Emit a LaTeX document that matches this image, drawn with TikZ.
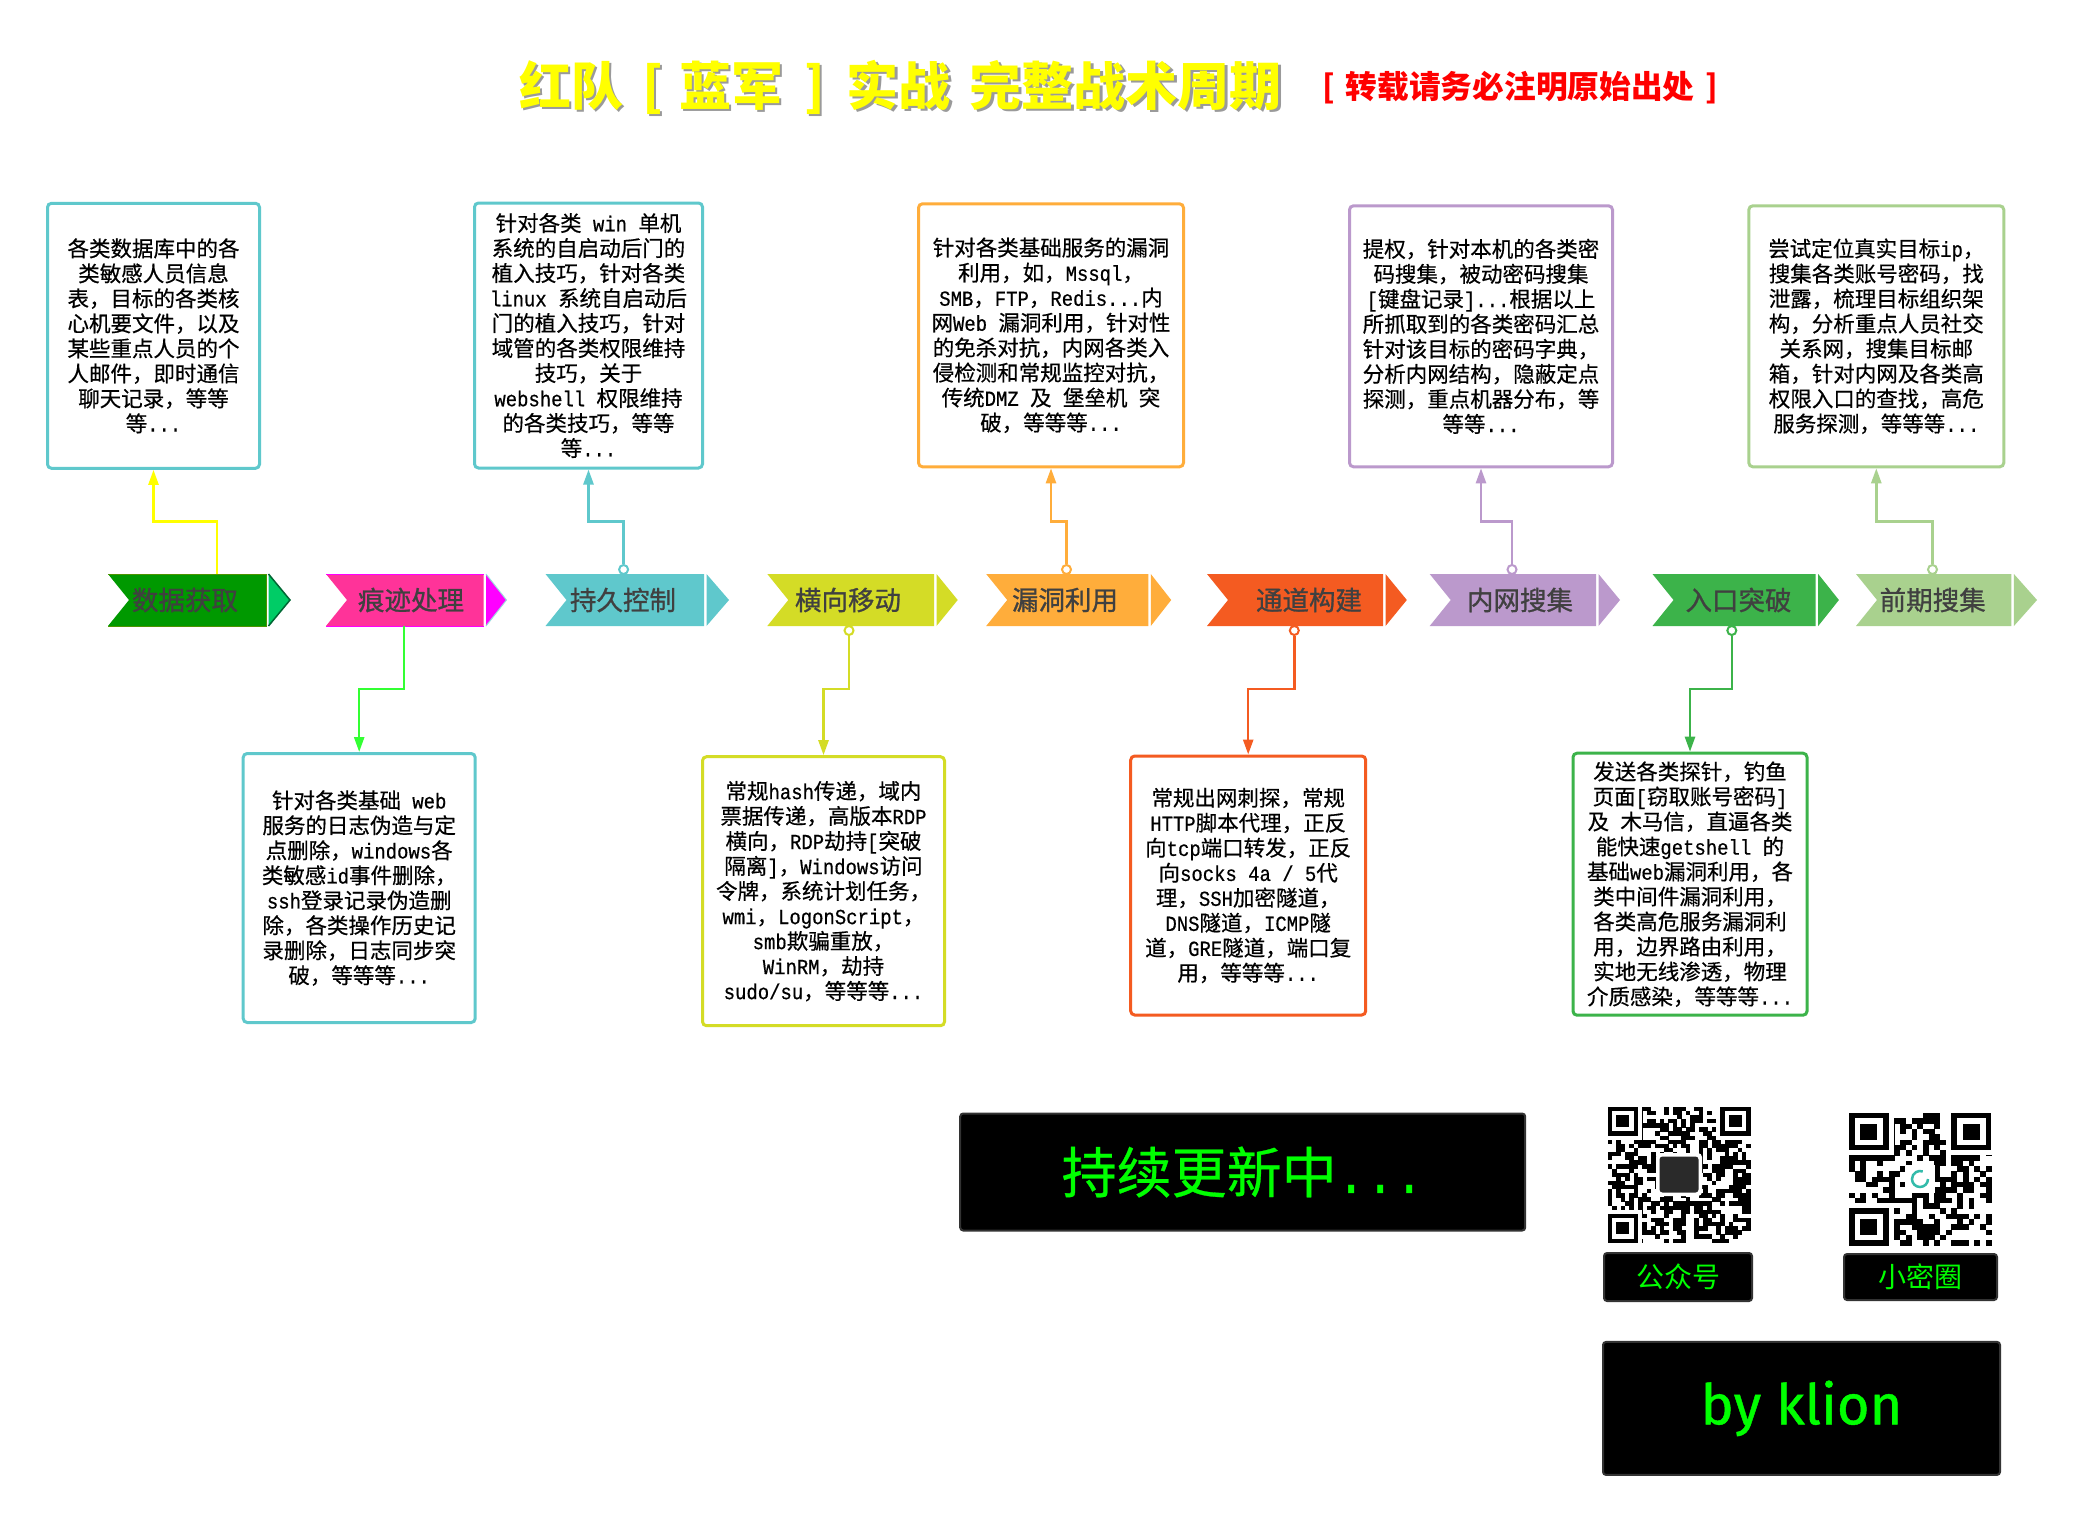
\documentclass[tikz,border=0pt]{standalone}
\usepackage{fontspec}
\setmainfont{Noto Sans CJK SC}
\newfontfamily\cjkb[FakeBold=1.0]{Noto Sans CJK SC}
\newfontfamily\cjkm[FakeBold=0.5]{Noto Sans CJK SC}
\newfontfamily\monof[FakeStretch=0.88,FakeBold=0.5]{Liberation Mono}
\newfontfamily\byfont[FakeBold=0.8]{Fira Sans}
\usetikzlibrary{arrows.meta}
\definecolor{cTeal}{HTML}{5FC8CC}
\definecolor{cDkGreen}{HTML}{009900}
\definecolor{cDkEdge}{HTML}{4D9400}
\definecolor{cTipOne}{HTML}{00CC66}
\definecolor{cTipEdge}{HTML}{006633}
\definecolor{cPink}{HTML}{FF3399}
\definecolor{cMag}{HTML}{FF00FF}
\definecolor{cYG}{HTML}{D4DC26}
\definecolor{cOrange}{HTML}{FFAD3B}
\definecolor{cRedOr}{HTML}{F45B21}
\definecolor{cPurple}{HTML}{BB99CC}
\definecolor{cGreen}{HTML}{3CB34A}
\definecolor{cLtGreen}{HTML}{A9D18E}
\definecolor{cYellow}{HTML}{FFFF00}
\definecolor{cBright}{HTML}{33FF33}
\definecolor{cText}{HTML}{404040}
\definecolor{cNeon}{HTML}{00FF00}
\definecolor{cBorder}{HTML}{333333}
\definecolor{cShadow}{HTML}{9A9A9A}
\definecolor{cLogo}{HTML}{2A2A2A}
\definecolor{cQRteal}{HTML}{33BBAA}
\definecolor{cRed}{HTML}{FF0000}
\newcommand\lat[1]{{\monof #1}}
% chevron: name, left, right, tip, fill, tipfill, text x, label
\newcommand\chevron[8]{%
  \fill[#5] (#2,574) -- (#3,574) -- (#3,626) -- (#2,626) -- ({#2+21},600) -- cycle;
  \fill[#6] ({#3+2.5},574) -- (#4,600) -- ({#3+2.5},626) -- cycle;
  \node[chevtext] (#1) at (#7,600) {#8};
}
\newcommand\qrblock[6]{%
  \pgfmathsetseed{#6}%
  \pgfmathtruncatemacro\qrlast{#3-1}%
  \foreach \qi in {0,...,\qrlast}{%
    \foreach \qj in {0,...,\qrlast}{%
      \pgfmathtruncatemacro\qrr{rnd*2}%
      \ifnum\qrr=1 \fill[black] ({#1+\qi*#4},{#2+\qj*#5}) rectangle ++({#4+0.2},{#5+0.2});\fi
    }%
  }%
}
\newcommand\qrfinder[4]{%
  \fill[white] ({#1-#3},{#2-#4}) rectangle ({#1+8*#3},{#2+8*#4});
  \fill[black] (#1,#2) rectangle ({#1+7*#3},{#2+7*#4});
  \fill[white] ({#1+#3},{#2+#4}) rectangle ({#1+6*#3},{#2+6*#4});
  \fill[black] ({#1+2*#3},{#2+2*#4}) rectangle ({#1+5*#3},{#2+5*#4});
}
\tikzset{
  infobox/.style={draw=#1, line width=3pt, rounded corners=4pt, fill=white, align=center, inner sep=0pt, font=\cjkm\fontsize{21.5}{25}\selectfont, text=black},
  chevtext/.style={text=cText, font=\cjkb\fontsize{26.5}{30}\selectfont, inner sep=0pt},
  conn/.style={draw=#1, line width=2.5pt},
  arr/.style={-{Triangle[length=15pt,width=10pt]}},
  knob/.style={circle, draw=#1, line width=2pt, fill=white, minimum size=9pt, inner sep=0pt},
  blackbox/.style={fill=black, draw=cBorder, line width=2pt, rounded corners=3pt, inner sep=0pt, text=cNeon},
}
\begin{document}
\begin{tikzpicture}[x=1pt,y=-1pt]
\useasboundingbox (0,0) rectangle (2099,1537);
\fill[white] (0,0) rectangle (2099,1537);

% ---------- title ----------
\node[anchor=west, inner sep=0pt, text=cShadow, font=\fontsize{52}{60}\selectfont\bfseries] (titleshadow) at (521.5,89.5) {红队\hspace{19pt}[\hspace{16.5pt}蓝军\hspace{21pt}]\hspace{21.5pt}实战\hspace{19pt}完整战术周期};
\node[anchor=west, inner sep=0pt, text=cYellow, font=\fontsize{52}{60}\selectfont\bfseries] (title) at (519,87) {红队\hspace{19pt}[\hspace{16.5pt}蓝军\hspace{21pt}]\hspace{21.5pt}实战\hspace{19pt}完整战术周期};
\node[anchor=west, inner sep=0pt, text=cRed, font=\fontsize{31.7}{36}\selectfont\bfseries] (subtitle) at (1322,88) {[\hspace{11pt}转载请务必注明原始出处\hspace{11pt}]};

% ---------- chevrons ----------
\chevron{ch1}{108}{266}{290}{cDkGreen}{cTipOne}{185}{数据获取}
\draw[cDkEdge, line width=1pt] (108,574) -- (266,574) -- (266,626) -- (108,626);
\draw[cTipEdge, line width=1.5pt] (268.5,574) -- (290,600) -- (268.5,626);
\chevron{ch2}{326}{483.5}{506.5}{cPink}{cMag}{411}{痕迹处理}
\draw[cMag, line width=1pt] (326,574) -- (483.5,574) (326,626) -- (483.5,626);
\draw[cTeal!60, line width=1pt] (486,574) -- (506.5,600) -- (486,626);
\chevron{ch3}{545.5}{704}{729}{cTeal}{cTeal}{623}{持久控制}
\chevron{ch4}{767.3}{934}{957.7}{cYG}{cYG}{848}{横向移动}
\chevron{ch5}{986.2}{1148.3}{1171.2}{cOrange}{cOrange}{1065}{漏洞利用}
\chevron{ch6}{1207}{1383}{1406.8}{cRedOr}{cRedOr}{1309}{通道构建}
\chevron{ch7}{1429.7}{1596}{1620}{cPurple}{cPurple}{1520}{内网搜集}
\chevron{ch8}{1652.5}{1815.7}{1838.9}{cGreen}{cGreen}{1738.5}{入口突破}
\chevron{ch9}{1856}{2011.4}{2037}{cLtGreen}{cLtGreen}{1932.7}{前期搜集}

% ---------- top boxes ----------
\node[infobox=cTeal, minimum width=212pt, minimum height=265pt] (t1) at (153.5,335.8) {各类数据库中的各\\类敏感人员信息\\表，目标的各类核\\心机要文件，以及\\某些重点人员的个\\人邮件，即时通信\\聊天记录，等等\\等\lat{...}};
\node[infobox=cTeal, minimum width=228pt, minimum height=265pt] (t2) at (588.5,335.5) {针对各类\lat{~win~}单机\\系统的自启动后门的\\植入技巧，针对各类\\\lat{linux~}系统自启动后\\门的植入技巧，针对\\域管的各类权限维持\\技巧，关于\\\lat{webshell~}权限维持\\的各类技巧，等等\\等\lat{...}};
\node[infobox=cOrange, minimum width=265pt, minimum height=263pt] (t3) at (1051,335.3) {针对各类基础服务的漏洞\\利用，如，\lat{Mssql}，\\\lat{SMB}，\lat{FTP}，\lat{Redis...}内\\网\lat{Web~}漏洞利用，针对性\\的免杀对抗，内网各类入\\侵检测和常规监控对抗，\\传统\lat{DMZ~}及\lat{~}堡垒机\lat{~}突\\破，等等等\lat{...}};
\node[infobox=cPurple, minimum width=263pt, minimum height=261pt] (t4) at (1481,336.3) {提权，针对本机的各类密\\码搜集，被动密码搜集\\\lat{[}键盘记录\lat{]...}根据以上\\所抓取到的各类密码汇总\\针对该目标的密码字典，\\分析内网结构，隐蔽定点\\探测，重点机器分布，等\\等等\lat{...}};
\node[infobox=cLtGreen, minimum width=255pt, minimum height=261pt] (t5) at (1876.3,336.3) {尝试定位真实目标\lat{ip}，\\搜集各类账号密码，找\\泄露，梳理目标组织架\\构，分析重点人员社交\\关系网，搜集目标邮\\箱，针对内网及各类高\\权限入口的查找，高危\\服务探测，等等等\lat{...}};

% ---------- bottom boxes ----------
\node[infobox=cTeal, minimum width=232pt, minimum height=269pt] (b1) at (359.2,888) {针对各类基础\lat{~web}\\服务的日志伪造与定\\点删除，\lat{windows}各\\类敏感\lat{id}事件删除，\\\lat{ssh}登录记录伪造删\\除，各类操作历史记\\录删除，日志同步突\\破，等等等\lat{...}};
\node[infobox=cYG, minimum width=242pt, minimum height=269pt] (b2) at (823.5,891.2) {常规\lat{hash}传递，域内\\票据传递，高版本\lat{RDP}\\横向，\lat{RDP}劫持\lat{[}突破\\隔离\lat{]}，\lat{Windows}访问\\令牌，系统计划任务，\\\lat{wmi}，\lat{LogonScript}，\\\lat{smb}欺骗重放，\\\lat{WinRM}，劫持\\\lat{sudo/su}，等等等\lat{...}};
\node[infobox=cRedOr, minimum width=235pt, minimum height=259pt] (b3) at (1248.2,885.5) {常规出网刺探，常规\\\lat{HTTP}脚本代理，正反\\向\lat{tcp}端口转发，正反\\向\lat{socks~4a~/~5}代\\理，\lat{SSH}加密隧道，\\\lat{DNS}隧道，\lat{ICMP}隧\\道，\lat{GRE}隧道，端口复\\用，等等等\lat{...}};
\node[infobox=cGreen, minimum width=234pt, minimum height=262pt] (b4) at (1690,884.2) {发送各类探针，钓鱼\\页面\lat{[}窃取账号密码\lat{]}\\及\lat{~}木马信，直逼各类\\能快速\lat{getshell~}的\\基础\lat{web}漏洞利用，各\\类中间件漏洞利用，\\各类高危服务漏洞利\\用，边界路由利用，\\实地无线渗透，物理\\介质感染，等等等\lat{...}};

% ---------- connectors ----------
\coordinate (jt) at (0,521.5);
\coordinate (jb) at (0,689);
\coordinate (c1t) at (217,574);
\coordinate (c2b) at (404,626);
\node[knob=cTeal] (kt3) at (623.6,569.5) {};
\node[knob=cOrange] (kt5) at (1066.5,569.5) {};
\node[knob=cPurple] (kt7) at (1512,569.5) {};
\node[knob=cLtGreen] (kt9) at (1932.5,569.5) {};
\node[knob=cYG] (kb4) at (849,630.5) {};
\node[knob=cRedOr] (kb6) at (1294.3,630.5) {};
\node[knob=cGreen] (kb8) at (1731.8,630.5) {};

\draw[conn=cYellow, arr] (c1t) -- (c1t |- jt) -| (t1.south);
\draw[conn=cTeal, arr] (kt3.north) -- (kt3.north |- jt) -| (t2.south);
\draw[conn=cOrange, arr] (kt5.north) -- (kt5.north |- jt) -| (t3.south);
\draw[conn=cPurple, arr] (kt7.north) -- (kt7.north |- jt) -| (t4.south);
\draw[conn=cLtGreen, arr] (kt9.north) -- (kt9.north |- jt) -| (t5.south);
\draw[conn=cBright, arr] (c2b) -- (c2b |- jb) -| (b1.north);
\draw[conn=cYG, arr] (kb4.south) -- (kb4.south |- jb) -| (b2.north);
\draw[conn=cRedOr, arr] (kb6.south) -- (kb6.south |- jb) -| (b3.north);
\draw[conn=cGreen, arr] (kb8.south) -- (kb8.south |- jb) -| (b4.north);

% ---------- black panels ----------
\node[blackbox, minimum width=565pt, minimum height=117pt, font=\cjkm\fontsize{55}{60}\selectfont] (upd) at (1242.7,1172) {持续更新中\lat{...}};
\node[blackbox, minimum width=148pt, minimum height=48pt, font=\fontsize{28}{32}\selectfont] (gzh) at (1678,1277) {公众号};
\node[blackbox, minimum width=153pt, minimum height=46pt, font=\fontsize{28}{32}\selectfont] (xmq) at (1920.5,1277) {小密圈};
\node[blackbox, minimum width=397pt, minimum height=133pt, font=\byfont\fontsize{56}{60}\selectfont] (by) at (1801.5,1408.4) {\raisebox{-10pt}{by klion}};

% ---------- QR codes ----------
\qrblock{1607.7}{1106.7}{33}{4.33}{4.12}{17}
\qrfinder{1607.7}{1106.7}{4.33}{4.12}
\qrfinder{1720.28}{1106.7}{4.33}{4.12}
\qrfinder{1607.7}{1213.8}{4.33}{4.12}
\fill[white, rounded corners=4pt] (1656,1153) rectangle (1702,1196);
\fill[cLogo, rounded corners=3pt] (1659.5,1156.5) rectangle (1698.5,1192.5);

\qrblock{1848.8}{1113}{25}{5.7}{5.3}{29}
\qrfinder{1848.8}{1113}{5.7}{5.3}
\qrfinder{1951.4}{1113}{5.7}{5.3}
\qrfinder{1848.8}{1208.4}{5.7}{5.3}
\fill[white] (1905,1165) rectangle (1935,1193);
\draw[cQRteal, line width=2.5pt] (1928,1179) arc[start angle=0, end angle=290, radius=8];
\end{tikzpicture}
\end{document}
